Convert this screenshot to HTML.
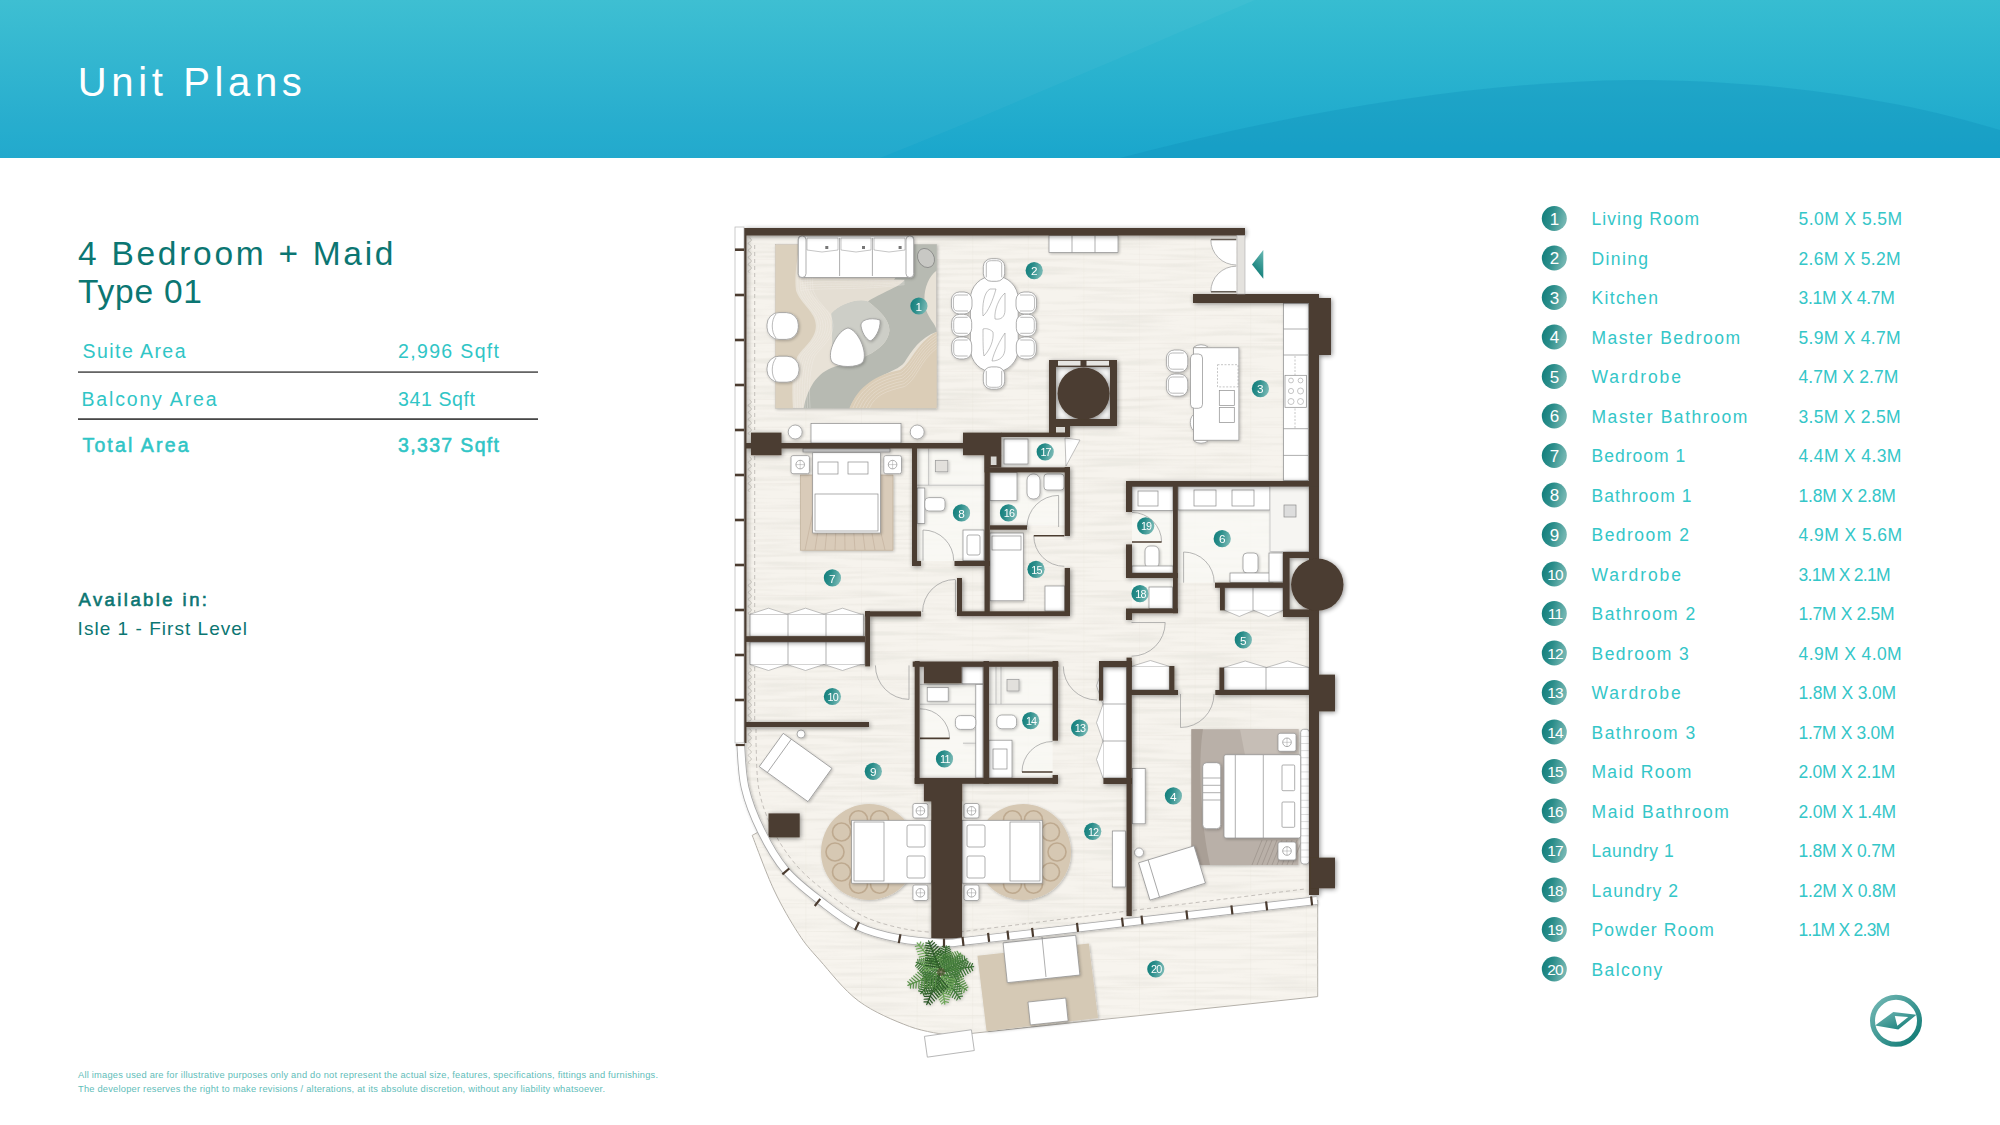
<!DOCTYPE html>
<html><head><meta charset="utf-8">
<style>
html,body{margin:0;padding:0;width:2000px;height:1125px;overflow:hidden;background:#fff;}
svg{position:absolute;left:0;top:0;display:block;}
text{font-family:"Liberation Sans",sans-serif;}
</style></head>
<body>
<svg width="2000" height="1125" viewBox="0 0 2000 1125">
<defs>
  <linearGradient id="hdr" x1="0" y1="0" x2="0" y2="1">
    <stop offset="0" stop-color="#37bdd1"/>
    <stop offset="1" stop-color="#1aa6cc"/>
  </linearGradient>
  <linearGradient id="mk" x1="0" y1="0" x2="1" y2="0.25">
    <stop offset="0" stop-color="#0d7c79"/>
    <stop offset="0.45" stop-color="#2a8d8a"/>
    <stop offset="1" stop-color="#72b5b1"/>
  </linearGradient>
  <linearGradient id="cmp" x1="0" y1="0" x2="1" y2="1">
    <stop offset="0" stop-color="#74b8b5"/>
    <stop offset="1" stop-color="#0b7872"/>
  </linearGradient>
</defs>

<!-- HEADER -->
<rect x="0" y="0" width="2000" height="158" fill="url(#hdr)"/>
<path d="M0 0 H1255 C1150 45 1000 110 880 158 H0 Z" fill="#ffffff" opacity="0.035"/>
<path d="M1120 158 C1300 110 1480 82 1630 80 C1780 80 1900 100 2000 130 V158 Z" fill="#0f8fb8" opacity="0.33"/>
<text x="77.8" y="95.5" font-size="40" fill="#fff" textLength="224" lengthAdjust="spacing">Unit Plans</text>

<!-- LEFT INFO -->
<g fill="#0b7672">
<text x="78" y="265.2" font-size="33.5" textLength="315.5" lengthAdjust="spacing">4 Bedroom + Maid</text>
<text x="78" y="303" font-size="33.5" textLength="124" lengthAdjust="spacing">Type 01</text>
</g>
<g fill="#30c5c6" font-size="19.5">
<text x="82.5" y="358.1" textLength="103" lengthAdjust="spacing">Suite Area</text>
<text x="398" y="358.1" textLength="101" lengthAdjust="spacing">2,996 Sqft</text>
<text x="81.5" y="406" textLength="135" lengthAdjust="spacing">Balcony Area</text>
<text x="398" y="406" textLength="77" lengthAdjust="spacing">341 Sqft</text>
<text x="82.5" y="452.2" stroke="#30c5c6" stroke-width="0.55" textLength="106" lengthAdjust="spacing">Total Area</text>
<text x="398" y="452.2" stroke="#30c5c6" stroke-width="0.55" textLength="101" lengthAdjust="spacing">3,337 Sqft</text>
</g>
<rect x="78" y="371.3" width="460" height="1.6" fill="#555"/>
<rect x="78" y="418.3" width="460" height="1.6" fill="#333"/>

<text x="78.5" y="605.8" font-size="18.5" fill="#0b7672" stroke="#0b7672" stroke-width="0.6" textLength="128.5" lengthAdjust="spacing">Available in:</text>
<text x="77.6" y="635" font-size="19" fill="#0b7672" textLength="169.5" lengthAdjust="spacing">Isle 1 - First Level</text>

<g fill="#5fbdb9" font-size="9.3">
<text x="78" y="1077.7" textLength="580" lengthAdjust="spacing">All images used are for illustrative purposes only and do not represent the actual size, features, specifications, fittings and furnishings.</text>
<text x="78" y="1091.5" textLength="527" lengthAdjust="spacing">The developer reserves the right to make revisions / alterations, at its absolute discretion, without any liability whatsoever.</text>
</g>

<!-- LEGEND -->
<g fill="#34c6c8">
<circle cx="1554.3" cy="218.5" r="12.5" fill="url(#mk)"/>
<text x="1554.6" y="224.6" font-size="17" fill="#fff" text-anchor="middle">1</text>
<text x="1591.5" y="225.0" font-size="17.5" textLength="107.6" lengthAdjust="spacing">Living Room</text>
<text x="1798.5" y="225.0" font-size="17.5" textLength="103.6" lengthAdjust="spacing">5.0M X 5.5M</text>
<circle cx="1554.3" cy="258.0" r="12.5" fill="url(#mk)"/>
<text x="1554.6" y="264.1" font-size="17" fill="#fff" text-anchor="middle">2</text>
<text x="1591.5" y="264.5" font-size="17.5" textLength="56.6" lengthAdjust="spacing">Dining</text>
<text x="1798.5" y="264.5" font-size="17.5" textLength="102.1" lengthAdjust="spacing">2.6M X 5.2M</text>
<circle cx="1554.3" cy="297.5" r="12.5" fill="url(#mk)"/>
<text x="1554.6" y="303.6" font-size="17" fill="#fff" text-anchor="middle">3</text>
<text x="1591.5" y="304.0" font-size="17.5" textLength="66.4" lengthAdjust="spacing">Kitchen</text>
<text x="1798.5" y="304.0" font-size="17.5" textLength="96.3" lengthAdjust="spacing">3.1M X 4.7M</text>
<circle cx="1554.3" cy="337.0" r="12.5" fill="url(#mk)"/>
<text x="1554.6" y="343.1" font-size="17" fill="#fff" text-anchor="middle">4</text>
<text x="1591.5" y="343.5" font-size="17.5" textLength="148.5" lengthAdjust="spacing">Master Bedroom</text>
<text x="1798.5" y="343.5" font-size="17.5" textLength="102.1" lengthAdjust="spacing">5.9M X 4.7M</text>
<circle cx="1554.3" cy="376.5" r="12.5" fill="url(#mk)"/>
<text x="1554.6" y="382.6" font-size="17" fill="#fff" text-anchor="middle">5</text>
<text x="1591.5" y="383.0" font-size="17.5" textLength="89.4" lengthAdjust="spacing">Wardrobe</text>
<text x="1798.5" y="383.0" font-size="17.5" textLength="99.9" lengthAdjust="spacing">4.7M X 2.7M</text>
<circle cx="1554.3" cy="416.0" r="12.5" fill="url(#mk)"/>
<text x="1554.6" y="422.1" font-size="17" fill="#fff" text-anchor="middle">6</text>
<text x="1591.5" y="422.5" font-size="17.5" textLength="155.8" lengthAdjust="spacing">Master Bathroom</text>
<text x="1798.5" y="422.5" font-size="17.5" textLength="102.1" lengthAdjust="spacing">3.5M X 2.5M</text>
<circle cx="1554.3" cy="455.5" r="12.5" fill="url(#mk)"/>
<text x="1554.6" y="461.6" font-size="17" fill="#fff" text-anchor="middle">7</text>
<text x="1591.5" y="462.0" font-size="17.5" textLength="93.8" lengthAdjust="spacing">Bedroom 1</text>
<text x="1798.5" y="462.0" font-size="17.5" textLength="102.8" lengthAdjust="spacing">4.4M X 4.3M</text>
<circle cx="1554.3" cy="495.0" r="12.5" fill="url(#mk)"/>
<text x="1554.6" y="501.1" font-size="17" fill="#fff" text-anchor="middle">8</text>
<text x="1591.5" y="501.5" font-size="17.5" textLength="99.9" lengthAdjust="spacing">Bathroom 1</text>
<text x="1798.5" y="501.5" font-size="17.5" textLength="97.4" lengthAdjust="spacing">1.8M X 2.8M</text>
<circle cx="1554.3" cy="534.5" r="12.5" fill="url(#mk)"/>
<text x="1554.6" y="540.6" font-size="17" fill="#fff" text-anchor="middle">9</text>
<text x="1591.5" y="541.0" font-size="17.5" textLength="97.4" lengthAdjust="spacing">Bedroom 2</text>
<text x="1798.5" y="541.0" font-size="17.5" textLength="103.6" lengthAdjust="spacing">4.9M X 5.6M</text>
<circle cx="1554.3" cy="574.0" r="12.5" fill="url(#mk)"/>
<text x="1555.0" y="579.6" font-size="15.5" letter-spacing="-0.9" fill="#fff" text-anchor="middle">10</text>
<text x="1591.5" y="580.5" font-size="17.5" textLength="89.4" lengthAdjust="spacing">Wardrobe</text>
<text x="1798.5" y="580.5" font-size="17.5" textLength="92.0" lengthAdjust="spacing">3.1M X 2.1M</text>
<circle cx="1554.3" cy="613.5" r="12.5" fill="url(#mk)"/>
<text x="1555.0" y="619.1" font-size="15.5" letter-spacing="-0.9" fill="#fff" text-anchor="middle">11</text>
<text x="1591.5" y="620.0" font-size="17.5" textLength="103.7" lengthAdjust="spacing">Bathroom 2</text>
<text x="1798.5" y="620.0" font-size="17.5" textLength="96.0" lengthAdjust="spacing">1.7M X 2.5M</text>
<circle cx="1554.3" cy="653.0" r="12.5" fill="url(#mk)"/>
<text x="1555.0" y="658.6" font-size="15.5" letter-spacing="-0.9" fill="#fff" text-anchor="middle">12</text>
<text x="1591.5" y="659.5" font-size="17.5" textLength="97.3" lengthAdjust="spacing">Bedroom 3</text>
<text x="1798.5" y="659.5" font-size="17.5" textLength="103.2" lengthAdjust="spacing">4.9M X 4.0M</text>
<circle cx="1554.3" cy="692.5" r="12.5" fill="url(#mk)"/>
<text x="1555.0" y="698.1" font-size="15.5" letter-spacing="-0.9" fill="#fff" text-anchor="middle">13</text>
<text x="1591.5" y="699.0" font-size="17.5" textLength="89.2" lengthAdjust="spacing">Wardrobe</text>
<text x="1798.5" y="699.0" font-size="17.5" textLength="97.7" lengthAdjust="spacing">1.8M X 3.0M</text>
<circle cx="1554.3" cy="732.0" r="12.5" fill="url(#mk)"/>
<text x="1555.0" y="737.6" font-size="15.5" letter-spacing="-0.9" fill="#fff" text-anchor="middle">14</text>
<text x="1591.5" y="738.5" font-size="17.5" textLength="103.7" lengthAdjust="spacing">Bathroom 3</text>
<text x="1798.5" y="738.5" font-size="17.5" textLength="96.0" lengthAdjust="spacing">1.7M X 3.0M</text>
<circle cx="1554.3" cy="771.5" r="12.5" fill="url(#mk)"/>
<text x="1555.0" y="777.1" font-size="15.5" letter-spacing="-0.9" fill="#fff" text-anchor="middle">15</text>
<text x="1591.5" y="778.0" font-size="17.5" textLength="99.8" lengthAdjust="spacing">Maid Room</text>
<text x="1798.5" y="778.0" font-size="17.5" textLength="96.8" lengthAdjust="spacing">2.0M X 2.1M</text>
<circle cx="1554.3" cy="811.0" r="12.5" fill="url(#mk)"/>
<text x="1555.0" y="816.6" font-size="15.5" letter-spacing="-0.9" fill="#fff" text-anchor="middle">16</text>
<text x="1591.5" y="817.5" font-size="17.5" textLength="137.4" lengthAdjust="spacing">Maid Bathroom</text>
<text x="1798.5" y="817.5" font-size="17.5" textLength="97.7" lengthAdjust="spacing">2.0M X 1.4M</text>
<circle cx="1554.3" cy="850.5" r="12.5" fill="url(#mk)"/>
<text x="1555.0" y="856.1" font-size="15.5" letter-spacing="-0.9" fill="#fff" text-anchor="middle">17</text>
<text x="1591.5" y="857.0" font-size="17.5" textLength="82.3" lengthAdjust="spacing">Laundry 1</text>
<text x="1798.5" y="857.0" font-size="17.5" textLength="96.8" lengthAdjust="spacing">1.8M X 0.7M</text>
<circle cx="1554.3" cy="890.0" r="12.5" fill="url(#mk)"/>
<text x="1555.0" y="895.6" font-size="15.5" letter-spacing="-0.9" fill="#fff" text-anchor="middle">18</text>
<text x="1591.5" y="896.5" font-size="17.5" textLength="86.6" lengthAdjust="spacing">Laundry 2</text>
<text x="1798.5" y="896.5" font-size="17.5" textLength="97.7" lengthAdjust="spacing">1.2M X 0.8M</text>
<circle cx="1554.3" cy="929.5" r="12.5" fill="url(#mk)"/>
<text x="1555.0" y="935.1" font-size="15.5" letter-spacing="-0.9" fill="#fff" text-anchor="middle">19</text>
<text x="1591.5" y="936.0" font-size="17.5" textLength="122.4" lengthAdjust="spacing">Powder Room</text>
<text x="1798.5" y="936.0" font-size="17.5" textLength="91.7" lengthAdjust="spacing">1.1M X 2.3M</text>
<circle cx="1554.3" cy="969.0" r="12.5" fill="url(#mk)"/>
<text x="1555.0" y="974.6" font-size="15.5" letter-spacing="-0.9" fill="#fff" text-anchor="middle">20</text>
<text x="1591.5" y="975.5" font-size="17.5" textLength="70.8" lengthAdjust="spacing">Balcony</text>
</g>
<!-- COMPASS -->
<circle cx="1896" cy="1020.8" r="23.5" fill="none" stroke="url(#cmp)" stroke-width="5"/>
<path fill="url(#cmp)" fill-rule="evenodd" d="M1875 1025.5 L1893.3 1012 L1916.5 1014.8 L1898.3 1029.5 Z M1894.8 1016.1 L1908.2 1017.1 L1897.3 1025.8 Z"/>

<!-- PLAN -->
<defs>
<pattern id="tiles" x="1027.8" y="259" width="55.6" height="28" patternUnits="userSpaceOnUse">
<path d="M0 0 V28 M0 0 H55.6" stroke="#e2ddd3" stroke-width="0.8" fill="none"/>
</pattern>
<filter id="sh" x="-10%" y="-10%" width="120%" height="120%">
<feGaussianBlur in="SourceAlpha" stdDeviation="2.6"/>
<feOffset dx="0.5" dy="1" result="b"/>
<feComponentTransfer><feFuncA type="linear" slope="0.45"/></feComponentTransfer>
<feMerge><feMergeNode/><feMergeNode in="SourceGraphic"/></feMerge>
</filter>
<filter id="shs" x="-20%" y="-20%" width="140%" height="140%">
<feGaussianBlur in="SourceAlpha" stdDeviation="1.5"/>
<feOffset dx="0.5" dy="1" result="b"/>
<feComponentTransfer><feFuncA type="linear" slope="0.25"/></feComponentTransfer>
<feMerge><feMergeNode/><feMergeNode in="SourceGraphic"/></feMerge>
</filter>
<filter id="marble" x="0" y="0" width="100%" height="100%" filterUnits="userSpaceOnUse">
<feTurbulence type="fractalNoise" baseFrequency="0.012 0.22" numOctaves="2" seed="4" result="n"/>
<feColorMatrix in="n" type="matrix" values="0 0 0 0 0.74  0 0 0 0 0.72  0 0 0 0 0.66  3.2 0 0 0 -1.35" result="c"/>
<feComposite in="c" in2="SourceGraphic" operator="in"/>
</filter>
<radialGradient id="palm" cx="0.5" cy="0.5" r="0.5">
<stop offset="0" stop-color="#2f5a22"/><stop offset="0.6" stop-color="#4f8a35"/><stop offset="1" stop-color="#7db35a" stop-opacity="0.0"/>
</radialGradient>
<linearGradient id="arrowg" x1="1" y1="0" x2="0.6" y2="1">
<stop offset="0" stop-color="#6ab9b4"/><stop offset="1" stop-color="#0b7a75"/>
</linearGradient>
</defs>
<path d="M752.2 835.4 C755.8 844.5 766.3 873.7 774.0 890.0 C781.7 906.3 790.7 921.6 798.3 933.3 C805.9 945.0 809.5 948.7 819.6 960.0 C829.7 971.3 843.6 989.9 858.6 1001.0 C873.6 1012.1 894.0 1020.6 909.4 1026.4 C924.8 1032.2 944.1 1034.1 951.0 1035.6 L1317.7 996.6 L1317.7 900.5 L963 941.4L963.0 941.4 C959.7 941.7 953.9 943.5 943.3 943.0 C932.7 942.5 914.0 941.5 899.6 938.7 C885.2 935.9 870.1 932.2 857.0 926.0 C843.9 919.8 832.9 910.6 821.0 901.4 C809.1 892.2 795.8 882.4 785.8 870.6 C775.8 858.8 765.1 837.3 761.0 830.6 Z" fill="#f7f4ee" stroke="#b3afa8" stroke-width="1"/>
<path d="M752.2 835.4 C755.8 844.5 766.3 873.7 774.0 890.0 C781.7 906.3 790.7 921.6 798.3 933.3 C805.9 945.0 809.5 948.7 819.6 960.0 C829.7 971.3 843.6 989.9 858.6 1001.0 C873.6 1012.1 894.0 1020.6 909.4 1026.4 C924.8 1032.2 944.1 1034.1 951.0 1035.6 L1317.7 996.6 L1317.7 900.5 L963 941.4L963.0 941.4 C959.7 941.7 953.9 943.5 943.3 943.0 C932.7 942.5 914.0 941.5 899.6 938.7 C885.2 935.9 870.1 932.2 857.0 926.0 C843.9 919.8 832.9 910.6 821.0 901.4 C809.1 892.2 795.8 882.4 785.8 870.6 C775.8 858.8 765.1 837.3 761.0 830.6 Z" fill="url(#tiles)" opacity="0.6"/>
<path d="M752.2 835.4 C755.8 844.5 766.3 873.7 774.0 890.0 C781.7 906.3 790.7 921.6 798.3 933.3 C805.9 945.0 809.5 948.7 819.6 960.0 C829.7 971.3 843.6 989.9 858.6 1001.0 C873.6 1012.1 894.0 1020.6 909.4 1026.4 C924.8 1032.2 944.1 1034.1 951.0 1035.6 L1317.7 996.6 L1317.7 900.5 L963 941.4L963.0 941.4 C959.7 941.7 953.9 943.5 943.3 943.0 C932.7 942.5 914.0 941.5 899.6 938.7 C885.2 935.9 870.1 932.2 857.0 926.0 C843.9 919.8 832.9 910.6 821.0 901.4 C809.1 892.2 795.8 882.4 785.8 870.6 C775.8 858.8 765.1 837.3 761.0 830.6 Z" fill="#000" filter="url(#marble)" opacity="0.3"/>
<rect x="925.6" y="1033.0" width="47.4" height="21.0" rx="0" fill="#fff" stroke="#aaa" stroke-width="0.8" transform="rotate(-8 949 1043)"/>
<path d="M746 235 H1245 V294 H1309 V900.5 L963 941.4 C959.7 941.7 953.9 943.5 943.3 943.0 C932.7 942.5 914.0 941.5 899.6 938.7 C885.2 935.9 870.1 932.2 857.0 926.0 C843.9 919.8 832.9 910.6 821.0 901.4 C809.1 892.2 795.8 882.4 785.8 870.6 C775.8 858.8 767.8 844.5 761.0 830.6 C754.2 816.8 748.4 802.1 745.0 787.5 C741.6 772.9 741.3 750.4 740.6 743.0 Z" fill="#f6f3ed"/>
<path d="M746 235 H1245 V294 H1309 V900.5 L963 941.4 C959.7 941.7 953.9 943.5 943.3 943.0 C932.7 942.5 914.0 941.5 899.6 938.7 C885.2 935.9 870.1 932.2 857.0 926.0 C843.9 919.8 832.9 910.6 821.0 901.4 C809.1 892.2 795.8 882.4 785.8 870.6 C775.8 858.8 767.8 844.5 761.0 830.6 C754.2 816.8 748.4 802.1 745.0 787.5 C741.6 772.9 741.3 750.4 740.6 743.0 Z" fill="url(#tiles)" opacity="0.45"/>
<path d="M746 235 H1245 V294 H1309 V900.5 L963 941.4 C959.7 941.7 953.9 943.5 943.3 943.0 C932.7 942.5 914.0 941.5 899.6 938.7 C885.2 935.9 870.1 932.2 857.0 926.0 C843.9 919.8 832.9 910.6 821.0 901.4 C809.1 892.2 795.8 882.4 785.8 870.6 C775.8 858.8 767.8 844.5 761.0 830.6 C754.2 816.8 748.4 802.1 745.0 787.5 C741.6 772.9 741.3 750.4 740.6 743.0 Z" fill="#000" filter="url(#marble)" opacity="0.35"/>
<rect x="917" y="448.5" width="67.5" height="112.5" fill="#faf9f6" opacity="0.75"/>
<rect x="990" y="472.4" width="75.0" height="52.9" fill="#faf9f6" opacity="0.75"/>
<rect x="1132" y="486.5" width="41.0" height="86.5" fill="#faf9f6" opacity="0.75"/>
<rect x="1178" y="486.5" width="131.0" height="96.1" fill="#faf9f6" opacity="0.75"/>
<rect x="1289.6" y="558" width="19.4" height="51.4" fill="#faf9f6" opacity="0.75"/>
<rect x="919.6" y="666.8" width="63.9" height="111.2" fill="#faf9f6" opacity="0.75"/>
<rect x="989" y="666.8" width="63.6" height="111.2" fill="#faf9f6" opacity="0.75"/>
<rect x="1001" y="437" width="64.0" height="30.4" fill="#faf9f6" opacity="0.75"/>
<rect x="1132" y="578" width="41.0" height="30.5" fill="#faf9f6" opacity="0.75"/>
<g filter="url(#shs)"><g transform="translate(770 240) scale(0.1529)">
<rect x="35" y="30" width="1055" height="1070" fill="#e8e2d7" stroke="#aaa" stroke-width="3"/>
<path d="M35 30 H195 C170 150 160 260 170 330 C200 420 300 470 300 560 C300 650 220 700 180 760 C150 830 140 950 150 1100 H35 Z" fill="#dbd0bd"/>
<path d="M880 30 H1090 V200 C1010 260 990 400 1030 480 C1060 540 1090 560 1090 600 C980 640 930 720 880 800 C820 880 620 880 520 1100 H220 C250 950 320 850 450 820 C600 780 760 720 780 600 C790 520 700 450 640 400 C720 330 870 300 880 30 Z" fill="#b7bab2"/>
<path d="M640 400 C700 450 790 520 780 600 C760 720 600 780 450 820 C380 700 420 600 400 480 C460 420 560 380 640 400 Z" fill="#cdcec7"/>
<path d="M520 1100 C580 950 700 880 850 850 C930 800 950 680 1090 600 V1100 Z" fill="#dbcdb7"/>
<path d="M200 250 C350 230 600 250 880 260 C860 300 760 330 640 400 C560 380 460 420 400 480 C330 420 250 330 200 250 Z" fill="#e4ded3"/>
<clipPath id="rugclip"><rect x="35" y="30" width="1055" height="1070"/></clipPath>
<g clip-path="url(#rugclip)" fill="none" stroke="#f7f4ef" stroke-width="3.5" opacity="0.55">
<path d="M211 30 C186 150 176 260 186 330 C216 420 316 470 316 560 C316 650 236 700 196 760 C166 830 156 950 166 1100"/>
<path d="M227 30 C202 150 192 260 202 330 C232 420 332 470 332 560 C332 650 252 700 212 760 C182 830 172 950 182 1100"/>
<path d="M243 30 C218 150 208 260 218 330 C248 420 348 470 348 560 C348 650 268 700 228 760 C198 830 188 950 198 1100"/>
<path d="M259 30 C234 150 224 260 234 330 C264 420 364 470 364 560 C364 650 284 700 244 760 C214 830 204 950 214 1100"/>
<path d="M275 30 C250 150 240 260 250 330 C280 420 380 470 380 560 C380 650 300 700 260 760 C230 830 220 950 230 1100"/>
<path d="M291 30 C266 150 256 260 266 330 C296 420 396 470 396 560 C396 650 316 700 276 760 C246 830 236 950 246 1100"/>
<path d="M307 30 C282 150 272 260 282 330 C312 420 412 470 412 560 C412 650 332 700 292 760 C262 830 252 950 262 1100"/>
<path d="M542 1100 C598 961 709 898 855 868 C935 818 955 698 1090 618"/>
<path d="M563 1100 C616 972 718 916 861 886 C941 836 961 716 1090 636"/>
<path d="M585 1100 C634 982 727 934 866 904 C946 854 966 734 1090 654"/>
<path d="M606 1100 C652 993 736 952 872 922 C952 872 972 752 1090 672"/>
<path d="M628 1100 C670 1004 745 970 877 940 C957 890 977 770 1090 690"/>
<path d="M650 1100 C688 1015 754 988 882 958 C962 908 982 788 1090 708"/>
<path d="M200 266 C350 246 600 266 880 266"/>
<path d="M200 282 C350 262 600 282 880 273"/>
<path d="M200 298 C350 278 600 298 880 279"/>
<path d="M200 314 C350 294 600 314 880 286"/>
<path d="M200 330 C350 310 600 330 880 292"/>
</g>
</g></g>
<rect x="800.6" y="475" width="92.4" height="75.2" fill="#d9cbb9" stroke="#b9a78f" stroke-width="0.6" filter="url(#shs)"/>
<path d="M805 550 L820 478" stroke="#a8917a" stroke-width="0.5" opacity="0.6"/>
<path d="M815 550 L826 478" stroke="#a8917a" stroke-width="0.5" opacity="0.6"/>
<path d="M825 550 L832 478" stroke="#a8917a" stroke-width="0.5" opacity="0.6"/>
<path d="M835 550 L838 478" stroke="#a8917a" stroke-width="0.5" opacity="0.6"/>
<path d="M845 550 L844 478" stroke="#a8917a" stroke-width="0.5" opacity="0.6"/>
<path d="M855 550 L850 478" stroke="#a8917a" stroke-width="0.5" opacity="0.6"/>
<path d="M865 550 L856 478" stroke="#a8917a" stroke-width="0.5" opacity="0.6"/>
<path d="M875 550 L862 478" stroke="#a8917a" stroke-width="0.5" opacity="0.6"/>
<path d="M885 550 L868 478" stroke="#a8917a" stroke-width="0.5" opacity="0.6"/>
<circle cx="869" cy="852" r="48" fill="#d6c8b3" filter="url(#shs)"/>
<circle cx="903.0" cy="852.0" r="9" fill="none" stroke="#b59f83" stroke-width="1.6" opacity="0.75"/>
<circle cx="896.5" cy="872.0" r="9" fill="none" stroke="#b59f83" stroke-width="1.6" opacity="0.75"/>
<circle cx="879.5" cy="884.3" r="9" fill="none" stroke="#b59f83" stroke-width="1.6" opacity="0.75"/>
<circle cx="858.5" cy="884.3" r="9" fill="none" stroke="#b59f83" stroke-width="1.6" opacity="0.75"/>
<circle cx="841.5" cy="872.0" r="9" fill="none" stroke="#b59f83" stroke-width="1.6" opacity="0.75"/>
<circle cx="835.0" cy="852.0" r="9" fill="none" stroke="#b59f83" stroke-width="1.6" opacity="0.75"/>
<circle cx="841.5" cy="832.0" r="9" fill="none" stroke="#b59f83" stroke-width="1.6" opacity="0.75"/>
<circle cx="858.5" cy="819.7" r="9" fill="none" stroke="#b59f83" stroke-width="1.6" opacity="0.75"/>
<circle cx="879.5" cy="819.7" r="9" fill="none" stroke="#b59f83" stroke-width="1.6" opacity="0.75"/>
<circle cx="896.5" cy="832.0" r="9" fill="none" stroke="#b59f83" stroke-width="1.6" opacity="0.75"/>
<circle cx="1023" cy="852" r="48" fill="#d6c8b3" filter="url(#shs)"/>
<circle cx="1057.0" cy="852.0" r="9" fill="none" stroke="#b59f83" stroke-width="1.6" opacity="0.75"/>
<circle cx="1050.5" cy="872.0" r="9" fill="none" stroke="#b59f83" stroke-width="1.6" opacity="0.75"/>
<circle cx="1033.5" cy="884.3" r="9" fill="none" stroke="#b59f83" stroke-width="1.6" opacity="0.75"/>
<circle cx="1012.5" cy="884.3" r="9" fill="none" stroke="#b59f83" stroke-width="1.6" opacity="0.75"/>
<circle cx="995.5" cy="872.0" r="9" fill="none" stroke="#b59f83" stroke-width="1.6" opacity="0.75"/>
<circle cx="989.0" cy="852.0" r="9" fill="none" stroke="#b59f83" stroke-width="1.6" opacity="0.75"/>
<circle cx="995.5" cy="832.0" r="9" fill="none" stroke="#b59f83" stroke-width="1.6" opacity="0.75"/>
<circle cx="1012.5" cy="819.7" r="9" fill="none" stroke="#b59f83" stroke-width="1.6" opacity="0.75"/>
<circle cx="1033.5" cy="819.7" r="9" fill="none" stroke="#b59f83" stroke-width="1.6" opacity="0.75"/>
<circle cx="1050.5" cy="832.0" r="9" fill="none" stroke="#b59f83" stroke-width="1.6" opacity="0.75"/>
<rect x="1191.4" y="729.2" width="107.1" height="135.8" fill="#b9b0a8" filter="url(#shs)"/>
<path d="M1240 729.2 H1298.5 V755 H1245 Z" fill="#c6beb6"/><path d="M1191.4 729.2 H1203 C1198 760 1200 820 1210 865 H1191.4 Z" fill="#a99f96"/>
<path d="M1252 865 L1262 840" stroke="#8f857c" stroke-width="0.5" fill="none"/>
<path d="M1257 865 L1267 840" stroke="#8f857c" stroke-width="0.5" fill="none"/>
<path d="M1262 865 L1272 840" stroke="#8f857c" stroke-width="0.5" fill="none"/>
<path d="M1267 865 L1277 840" stroke="#8f857c" stroke-width="0.5" fill="none"/>
<path d="M1272 865 L1282 840" stroke="#8f857c" stroke-width="0.5" fill="none"/>
<path d="M1277 865 L1287 840" stroke="#8f857c" stroke-width="0.5" fill="none"/>
<path d="M1282 865 L1292 840" stroke="#8f857c" stroke-width="0.5" fill="none"/>
<path d="M1287 865 L1297 840" stroke="#8f857c" stroke-width="0.5" fill="none"/>
<path d="M1292 865 L1302 840" stroke="#8f857c" stroke-width="0.5" fill="none"/>
<path d="M977.4 955.7 L1088.8 943.4 L1098 1018 L986.6 1031.3 Z" fill="#d5c9b5" filter="url(#shs)"/>
<path d="M754.7 245 V430 M754.7 456 V612 M754.7 667 V720 M756 729 V743 C756.5 750.8 756.2 775.5 759.0 790.0 C761.8 804.5 766.7 817.3 773.0 830.0 C779.3 842.7 787.5 855.2 797.0 866.0 C806.5 876.8 818.7 886.5 830.0 895.0 C841.3 903.5 852.5 911.3 865.0 917.0 C877.5 922.7 891.7 926.3 905.0 929.0 C918.3 931.7 935.3 932.6 945.0 933.0 C954.7 933.4 960.0 931.8 963.0 931.5 L1305 889" fill="none" stroke="#b7b3ad" stroke-width="0.8" stroke-dasharray="4 3"/>
<path d="M749.5 238 q4 2 0 4 q-3 1 0 3 q4 2 0 4 q-3 1 0 3 q4 2 0 4 q-3 1 0 3 q4 2 0 4 q-3 1 0 3 q4 2 0 4 q-3 1 0 3" fill="none" stroke="#b9b5ae" stroke-width="0.6"/>
<path d="M749.5 400 q4 2 0 4 q-3 1 0 3 q4 2 0 4 q-3 1 0 3 q4 2 0 4 q-3 1 0 3 q4 2 0 4 q-3 1 0 3 q4 2 0 4 q-3 1 0 3" fill="none" stroke="#b9b5ae" stroke-width="0.6"/>
<path d="M749.5 457 q4 2 0 4 q-3 1 0 3 q4 2 0 4 q-3 1 0 3 q4 2 0 4 q-3 1 0 3 q4 2 0 4 q-3 1 0 3 q4 2 0 4 q-3 1 0 3" fill="none" stroke="#b9b5ae" stroke-width="0.6"/>
<path d="M749.5 580 q4 2 0 4 q-3 1 0 3 q4 2 0 4 q-3 1 0 3 q4 2 0 4 q-3 1 0 3 q4 2 0 4 q-3 1 0 3 q4 2 0 4 q-3 1 0 3" fill="none" stroke="#b9b5ae" stroke-width="0.6"/>
<path d="M749.5 668 q4 2 0 4 q-3 1 0 3 q4 2 0 4 q-3 1 0 3 q4 2 0 4 q-3 1 0 3 q4 2 0 4 q-3 1 0 3 q4 2 0 4 q-3 1 0 3 q4 2 0 4 q-3 1 0 3 q4 2 0 4 q-3 1 0 3 q4 2 0 4 q-3 1 0 3" fill="none" stroke="#b9b5ae" stroke-width="0.6"/>
<path d="M749.5 729 q4 2 0 4 q-3 1 0 3 q4 2 0 4 q-3 1 0 3 q4 2 0 4 q-3 1 0 3 q4 2 0 4 q-3 1 0 3 q4 2 0 4 q-3 1 0 3" fill="none" stroke="#b9b5ae" stroke-width="0.6"/>
<g fill="#fff" stroke="#8c8c8c" stroke-width="0.7" filter="url(#shs)">
<rect x="798.3" y="236" width="115.4" height="41.5" rx="3"/>
<rect x="798.3" y="236" width="7.7" height="41.5" rx="3.8"/><rect x="906" y="236" width="7.7" height="41.5" rx="3.8"/>
<path d="M839.6 238 V276 M872.4 238 V276" fill="none"/>
<path d="M807 238 H838 V250 L822 252 L807 250 Z M841 238 H871 V250 L856 252 L841 250 Z M874 238 H905 V250 L889 252 L874 250 Z" fill="#fff" stroke-width="0.5"/>
<rect x="825.3" y="246" width="3" height="3" fill="#777" stroke="none"/><rect x="862" y="246" width="3" height="3" fill="#777" stroke="none"/><rect x="898.6" y="246" width="3" height="3" fill="#777" stroke="none"/>
<rect x="767" y="312.6" width="31.3" height="26.8" rx="12"/><rect x="767" y="356.2" width="32" height="26" rx="12"/>
<path d="M776 314 C771 320 771 332 776 338 M776 358 C771 364 771 376 776 381" fill="none" stroke-width="0.6"/>
<path d="M832 362 C826 352 838 330 848 328 C858 330 868 352 863 362 C858 368 838 368 832 362 Z"/>
<path d="M861 326 C860 320 870 317 880 320 C881 330 874 340 870 341 C865 338 862 332 861 326 Z"/>
<rect x="811" y="423.5" width="90" height="19.5"/>
<circle cx="795.2" cy="432" r="7"/><circle cx="917.2" cy="432" r="7"/>
<rect x="970.4" y="276" width="47.8" height="96" rx="23"/>
<path d="M990 289 C984 292 982 305 983 316 C988 312 993 300 996 289 Z M1005 293 C999 298 994 310 995 319 C1001 320 1005 317 1005 310 Z M983 329 C983 340 983 352 984 356 C990 350 994 340 993 332 C990 329 986 328 983 329 Z M1005 333 C1000 340 994 352 992 361 C1000 361 1005 356 1005 348 Z" fill="#fff" stroke="#999" stroke-width="0.6"/>
<g transform="translate(961.7 303.0) rotate(90)"><rect x="-11.0" y="-10.3" width="22.0" height="20.6" rx="8"/><path d="M-8.0 -6.3 V4.3 Q-8.0 8.3 -3.0 8.3 H3.0 Q8.0 8.3 8.0 4.3 V-6.3" fill="none" stroke-width="0.6"/></g>
<g transform="translate(1026.3 303.0) rotate(-90)"><rect x="-11.0" y="-10.3" width="22.0" height="20.6" rx="8"/><path d="M-8.0 -6.3 V4.3 Q-8.0 8.3 -3.0 8.3 H3.0 Q8.0 8.3 8.0 4.3 V-6.3" fill="none" stroke-width="0.6"/></g>
<g transform="translate(961.7 325.3) rotate(90)"><rect x="-11.0" y="-10.0" width="22.0" height="20.0" rx="8"/><path d="M-8.0 -6.0 V4.0 Q-8.0 8.0 -3.0 8.0 H3.0 Q8.0 8.0 8.0 4.0 V-6.0" fill="none" stroke-width="0.6"/></g>
<g transform="translate(1026.3 325.3) rotate(-90)"><rect x="-11.0" y="-10.0" width="22.0" height="20.0" rx="8"/><path d="M-8.0 -6.0 V4.0 Q-8.0 8.0 -3.0 8.0 H3.0 Q8.0 8.0 8.0 4.0 V-6.0" fill="none" stroke-width="0.6"/></g>
<g transform="translate(961.7 348.0) rotate(90)"><rect x="-11.0" y="-10.0" width="22.0" height="20.0" rx="8"/><path d="M-8.0 -6.0 V4.0 Q-8.0 8.0 -3.0 8.0 H3.0 Q8.0 8.0 8.0 4.0 V-6.0" fill="none" stroke-width="0.6"/></g>
<g transform="translate(1026.3 348.0) rotate(-90)"><rect x="-11.0" y="-10.0" width="22.0" height="20.0" rx="8"/><path d="M-8.0 -6.0 V4.0 Q-8.0 8.0 -3.0 8.0 H3.0 Q8.0 8.0 8.0 4.0 V-6.0" fill="none" stroke-width="0.6"/></g>
<g transform="translate(994.0 270.0) rotate(180)"><rect x="-10.7" y="-11.3" width="21.4" height="22.6" rx="8"/><path d="M-7.7 -7.3 V5.3 Q-7.7 9.3 -2.7 9.3 H2.7 Q7.7 9.3 7.7 5.3 V-7.3" fill="none" stroke-width="0.6"/></g>
<g transform="translate(994.0 378.1) rotate(0)"><rect x="-10.7" y="-11.2" width="21.4" height="22.3" rx="8"/><path d="M-7.7 -7.2 V5.2 Q-7.7 9.2 -2.7 9.2 H2.7 Q7.7 9.2 7.7 5.2 V-7.2" fill="none" stroke-width="0.6"/></g>
<rect x="1049" y="235.5" width="69" height="17"/><path d="M1072 235.5 V252.5 M1095 235.5 V252.5" fill="none"/>
<path d="M1194 347 A9 6 0 0 1 1208 347 M1194 441 A9 6 0 0 0 1208 441 M1193 358 A6 9 0 0 0 1193 372 M1193 415 A6 9 0 0 0 1193 430" fill="#fff"/>
<rect x="1193.6" y="347.8" width="45.3" height="92.4"/>
<rect x="1190.5" y="354" width="12" height="54.3" rx="4"/>
<rect x="1217.5" y="364.7" width="20.5" height="22.2" fill="none" stroke-dasharray="2 1.5" stroke-width="0.5"/>
<rect x="1219.3" y="390.5" width="15" height="15"/><rect x="1219.3" y="407.5" width="15" height="15"/>
<g transform="translate(1177.1 361.1) rotate(90)"><rect x="-11.1" y="-10.7" width="22.2" height="21.4" rx="8"/><path d="M-8.1 -6.7 V4.7 Q-8.1 8.7 -3.1 8.7 H3.1 Q8.1 8.7 8.1 4.7 V-6.7" fill="none" stroke-width="0.6"/></g>
<g transform="translate(1177.1 385.1) rotate(90)"><rect x="-11.1" y="-10.7" width="22.2" height="21.4" rx="8"/><path d="M-8.1 -6.7 V4.7 Q-8.1 8.7 -3.1 8.7 H3.1 Q8.1 8.7 8.1 4.7 V-6.7" fill="none" stroke-width="0.6"/></g>
<rect x="1283.4" y="303.3" width="24.9" height="177"/>
<path d="M1283.4 329 H1308 M1283.4 355 H1308 M1283.4 428.7 H1308 M1283.4 455.4 H1308" fill="none"/>
<path d="M1295 356 V428" fill="none" stroke-dasharray="2 1.5" stroke-width="0.5"/>
<rect x="1285" y="375.3" width="21.5" height="32"/>
<circle cx="1291" cy="380.5" r="2.4" fill="none" stroke-width="0.5"/><circle cx="1300.5" cy="380.5" r="2.4" fill="none" stroke-width="0.5"/><circle cx="1291" cy="391" r="2.6" fill="none" stroke-width="0.5"/><circle cx="1300.5" cy="391" r="3" fill="none" stroke-width="0.5"/><circle cx="1291" cy="401.5" r="3" fill="none" stroke-width="0.5"/><circle cx="1300.5" cy="401.5" r="3" fill="none" stroke-width="0.5"/>
<rect x="803" y="448.5" width="87" height="3.5" fill="#ddd"/>
<rect x="812.7" y="452.7" width="67.8" height="80.3"/>
<rect x="815" y="494" width="63" height="37"/>
<rect x="818" y="462" width="20" height="12"/><rect x="848" y="462" width="20" height="12"/>
<rect x="791" y="455.6" width="18.4" height="18.1" rx="2"/><rect x="883.8" y="455.6" width="17.7" height="18.1" rx="2"/>
<rect x="750" y="614.2" width="113.3" height="22"/><path d="M788 614.2 V636.2 M826 614.2 V636.2" fill="none"/>
<rect x="750" y="642" width="115" height="22.4"/><path d="M788 642 V664.4 M826 642 V664.4" fill="none"/>
<path d="M928.7 448.5 V485.2 M917 485.2 H984.5" fill="none" stroke="#aaa"/><rect x="935.4" y="460.4" width="12.4" height="11.4" fill="#e2e0dc" stroke="#999"/>
<rect x="917.2" y="488" width="7.6" height="35.4"/>
<rect x="924.8" y="497.6" width="20.2" height="13.4" rx="4"/><rect x="963" y="530" width="21" height="30.7"/><rect x="967" y="535" width="13" height="20" rx="2"/>
<rect x="990" y="472.4" width="27" height="28"/><rect x="1027" y="474" width="13" height="25" rx="6"/><rect x="1044" y="474" width="20" height="16" rx="3"/>
<rect x="990" y="533" width="33.3" height="67.8"/><rect x="992" y="536" width="29" height="14"/>
<rect x="1045" y="586" width="19.7" height="25"/>
<rect x="1004" y="439" width="24" height="25"/>
<rect x="1132" y="486.5" width="41" height="24"/><rect x="1138" y="491" width="20" height="15"/>
<rect x="1145" y="546" width="14" height="22" rx="5"/><rect x="1132" y="566" width="41" height="7"/>
<rect x="1149" y="587" width="23.5" height="21.5"/>
<rect x="1178" y="486.5" width="92" height="23.5"/><rect x="1194" y="490" width="22" height="16"/><rect x="1232" y="490" width="22" height="16"/>
<rect x="1270" y="486.5" width="39" height="65" fill="#f6f5f2" stroke="#bbb"/><rect x="1284" y="505" width="12" height="12" fill="#ddd"/>
<rect x="1243" y="553" width="15" height="20" rx="4"/><rect x="1230" y="573" width="43" height="9.6"/>
<rect x="1269" y="553" width="14" height="29"/>
<rect x="1224.7" y="587.8" width="58.3" height="22.5"/><path d="M1253 587.8 V610" fill="none"/>
<rect x="1131.5" y="666.4" width="37.8" height="23.6"/>
<rect x="1224" y="667.5" width="85" height="22.5"/><path d="M1266 667.5 V690" fill="none"/>
<rect x="1103" y="667" width="23.5" height="111"/><path d="M1103 704 H1126.5 M1103 741 H1126.5" fill="none"/>
<rect x="962" y="666.8" width="21" height="17"/>
<path d="M920 684.4 H975.8 M920 704.2 H983 M963 743.2 H983" fill="none" stroke="#aaa"/>
<rect x="927.2" y="687.4" width="21" height="13.8"/>
<rect x="975.8" y="684.4" width="7.2" height="93.6"/>
<rect x="955.4" y="715.6" width="20.4" height="13.8" rx="5"/>
<path d="M996 666.8 V704.2 M1001 666.8 V704.2 M989 704.2 H1052.6" fill="none" stroke="#aaa"/><rect x="1007" y="679.6" width="12" height="11.4" fill="#e2e0dc" stroke="#999"/>
<rect x="996.8" y="715" width="19.8" height="13.8" rx="5"/>
<rect x="989" y="740.2" width="23" height="37.8"/><rect x="993" y="749" width="14" height="20"/>
<rect x="912.9" y="803.5" width="15" height="14.5" rx="2"/><rect x="912.9" y="885" width="15" height="15.5" rx="2"/>
<rect x="851.7" y="820.3" width="79.7" height="62.9"/><rect x="854" y="822" width="30" height="59"/>
<rect x="907" y="825" width="18" height="22" rx="2"/><rect x="907" y="856" width="18" height="22" rx="2"/>
<rect x="964" y="803.5" width="15" height="14.5" rx="2"/><rect x="964" y="885" width="15" height="15.5" rx="2"/>
<rect x="962.2" y="820.3" width="80" height="62.9"/><rect x="1010" y="822" width="30" height="59"/>
<rect x="967" y="825" width="18" height="22" rx="2"/><rect x="967" y="856" width="18" height="22" rx="2"/>
<rect x="1112.3" y="831" width="13.3" height="56"/>
<rect x="1300.7" y="729.3" width="8.6" height="134.7" rx="3"/>
<path d="M1301 736.4 H1309 M1301 743.5 H1309 M1301 750.6 H1309 M1301 757.7 H1309 M1301 764.8 H1309 M1301 771.9 H1309 M1301 779.0 H1309 M1301 786.1 H1309 M1301 793.2 H1309 M1301 800.3 H1309 M1301 807.4 H1309 M1301 814.5 H1309 M1301 821.6 H1309 M1301 828.7 H1309 M1301 835.8 H1309 M1301 842.9 H1309 M1301 850.0 H1309 M1301 857.1 H1309" fill="none" stroke="#bbb" stroke-width="0.5"/>
<rect x="1224" y="754.7" width="76.7" height="83.3" rx="2"/><path d="M1235.3 755 V838 M1263.3 755 V838" fill="none"/>
<rect x="1282" y="765" width="12.7" height="25.7" rx="1"/><rect x="1282" y="802" width="12.7" height="25.3" rx="1"/>
<rect x="1278" y="733.3" width="18" height="18" rx="2"/><rect x="1278" y="842" width="18" height="18" rx="2"/>
<rect x="1202.7" y="762.7" width="18" height="66" rx="4"/><path d="M1203 778 H1220.7 M1203 785.3 H1220.7 M1203 792.7 H1220.7 M1203 800 H1220.7" fill="none"/>
<rect x="1132.5" y="768.6" width="12.7" height="55.2"/>
<rect x="-30" y="-20.5" width="60" height="41" transform="translate(795.6 767.5) rotate(35.7)"/><path d="M-20 -20.5 V20.5" fill="none" transform="translate(795.6 767.5) rotate(35.7)"/>
<rect x="-29" y="-19.5" width="58" height="39" transform="translate(1172 873) rotate(-17)"/><path d="M-19 -19.5 V19.5" fill="none" transform="translate(1172 873) rotate(-17)"/>
<circle cx="801" cy="734" r="4"/><circle cx="1139" cy="852.5" r="4.5"/>
<rect x="1005" y="939" width="73" height="40" transform="rotate(-6 1041 959)"/><path d="M1042 937 L1046 977" fill="none"/>
<rect x="1029" y="1000" width="38" height="23" transform="rotate(-6 1048 1011)"/>
<circle cx="1287" cy="742.3" r="4.3" fill="none"/><path d="M1282.7 742.3 H1291.3 M1287 738.0 V746.5999999999999" fill="none" stroke-width="0.4"/>
<circle cx="1287" cy="851" r="4.3" fill="none"/><path d="M1282.7 851 H1291.3 M1287 846.7 V855.3" fill="none" stroke-width="0.4"/>
<circle cx="800.2" cy="464.6" r="4.3" fill="none"/><path d="M795.9000000000001 464.6 H804.5 M800.2 460.3 V468.90000000000003" fill="none" stroke-width="0.4"/>
<circle cx="892.6" cy="464.6" r="4.3" fill="none"/><path d="M888.3000000000001 464.6 H896.9 M892.6 460.3 V468.90000000000003" fill="none" stroke-width="0.4"/>
<circle cx="920.4" cy="810.8" r="4.3" fill="none"/><path d="M916.1 810.8 H924.6999999999999 M920.4 806.5 V815.0999999999999" fill="none" stroke-width="0.4"/>
<circle cx="920.4" cy="892.8" r="4.3" fill="none"/><path d="M916.1 892.8 H924.6999999999999 M920.4 888.5 V897.0999999999999" fill="none" stroke-width="0.4"/>
<circle cx="971.5" cy="810.8" r="4.3" fill="none"/><path d="M967.2 810.8 H975.8 M971.5 806.5 V815.0999999999999" fill="none" stroke-width="0.4"/>
<circle cx="971.5" cy="892.8" r="4.3" fill="none"/><path d="M967.2 892.8 H975.8 M971.5 888.5 V897.0999999999999" fill="none" stroke-width="0.4"/>
</g>
<g fill="#fff" stroke="#999" stroke-width="0.6">
<polyline points="750.0,614.2 768.5,608.2 787.0,614.2 805.5,608.2 824.0,614.2 842.5,608.2 861.0,614.2"/>
<polyline points="750.0,664.4 768.5,670.5 787.0,664.4 805.5,670.5 824.0,664.4 842.5,670.5 861.0,664.4"/>
<polyline points="1131.5,666.4 1150.4,660.5 1169.3,666.4"/>
<polyline points="1224.0,667.5 1245.2,661.0 1266.5,667.5 1287.8,661.0 1309.0,667.5"/>
<polyline points="1224.7,610.3 1239.3,616.5 1253.8,610.3 1268.4,616.5 1283.0,610.3"/>
<polyline points="1103.0,667.4 1096.5,685.8 1103.0,704.2 1096.5,722.6 1103.0,741.1 1096.5,759.5 1103.0,777.9"/>
</g>
<ellipse cx="926" cy="258" rx="8" ry="10" fill="#c8c8c4" stroke="#777" stroke-width="0.6" transform="rotate(-30 926 258)"/>
<path d="M1210.8 239.5 A25.5 25.5 0 0 0 1236.3 265 V239.5 Z M1210.8 291.7 A25.5 25.5 0 0 1 1236.3 266.2 V291.7 Z" fill="#fff"/>
<path d="M1211 239.5 H1236.3 M1211 291.7 H1236.3" stroke="#6a625a" stroke-width="1.4" fill="none"/>
<g fill="none" stroke="#9a9a9a" stroke-width="0.7">
<path d="M1210.8 239.5 A25.5 25.5 0 0 0 1236.3 265"/>
<path d="M1210.8 291.7 A25.5 25.5 0 0 1 1236.3 266.2"/>
<path d="M923 530 A30.7 30.7 0 0 1 953.7 560.7 M923 530 V560.7"/>
<path d="M922.6 612 A32.5 32.5 0 0 1 955 579.5 M955.5 579.5 V612"/>
<path d="M1027 527 A31.6 31.6 0 0 1 1058.6 495.4 M1058.6 495.4 V527"/>
<path d="M1033.8 535.8 A30.5 30.5 0 0 0 1064.3 566.3"/>
<path d="M1132 512.4 A29.6 29.6 0 0 1 1161.6 542"/>
<path d="M1183.6 552 A30.6 30.6 0 0 1 1214.2 582.7 M1183.6 552 V582.7"/>
<path d="M1165.2 622.5 A33.7 33.7 0 0 1 1131.5 656.2 M1131.5 622.5 H1165.2"/>
<path d="M1180.5 727.5 A33.5 33.5 0 0 0 1214 694 M1180.5 694 V727.5"/>
<path d="M875.4 665.4 A34 34 0 0 0 909 699.4 M909 665.4 V699.4"/>
<path d="M920 708.8 A29.6 29.6 0 0 1 949.6 738.4"/>
<path d="M1052.5 741.5 A30.5 30.5 0 0 0 1022 772"/>
<path d="M1063.3 666.4 A33.7 33.7 0 0 0 1097 700"/>
</g>
<path d="M1033.8 535.8 H1064.3 M1132 542 H1161.6 M920 738.4 H949.6 M1022 772 H1052.5" stroke="#4b3c30" stroke-width="1.6" fill="none"/>
<rect x="1055" y="366" width="56" height="54" fill="#fbfbfa"/>
<path d="M1065 438 L1080 440 L1066 466 Z" fill="#fff" stroke="#999" stroke-width="0.6"/>
<g fill="#4b3c30" filter="url(#sh)">
<rect x="744.0" y="228.0" width="501.0" height="7.5" fill="#4b3c30" />
<rect x="1193.0" y="294.0" width="126.0" height="9.0" fill="#4b3c30" />
<rect x="1309.0" y="297.0" width="10.0" height="598.0" fill="#4b3c30" />
<rect x="1309.0" y="298.0" width="22.0" height="57.0" fill="#4b3c30" />
<rect x="1049.0" y="360.0" width="68.0" height="7.0" fill="#4b3c30" />
<rect x="1049.0" y="360.0" width="7.0" height="66.0" fill="#4b3c30" />
<rect x="1110.0" y="360.0" width="7.0" height="66.0" fill="#4b3c30" />
<rect x="1049.0" y="419.0" width="68.0" height="7.0" fill="#4b3c30" />
<rect x="1049.0" y="426.0" width="21.0" height="11.0" fill="#4b3c30" />
<rect x="746.0" y="443.0" width="217.0" height="5.5" fill="#4b3c30" />
<rect x="751.0" y="432.6" width="30.5" height="22.6" fill="#4b3c30" />
<rect x="963.0" y="432.6" width="38.3" height="22.6" fill="#4b3c30" />
<rect x="1001.0" y="432.6" width="69.0" height="4.4" fill="#4b3c30" />
<rect x="912.0" y="448.0" width="5.0" height="118.0" fill="#4b3c30" />
<rect x="912.0" y="561.0" width="9.0" height="5.0" fill="#4b3c30" />
<rect x="954.5" y="561.0" width="35.5" height="5.0" fill="#4b3c30" />
<rect x="984.5" y="455.0" width="5.3" height="161.0" fill="#4b3c30" />
<rect x="984.5" y="455.0" width="16.8" height="12.5" fill="#4b3c30" />
<rect x="984.5" y="467.4" width="85.5" height="5.0" fill="#4b3c30" />
<rect x="1064.7" y="467.0" width="5.3" height="69.0" fill="#4b3c30" />
<rect x="1064.7" y="568.0" width="5.3" height="48.0" fill="#4b3c30" />
<rect x="957.0" y="611.3" width="113.0" height="4.8" fill="#4b3c30" />
<rect x="990.0" y="525.3" width="37.0" height="4.4" fill="#4b3c30" />
<rect x="957.0" y="578.0" width="5.0" height="38.0" fill="#4b3c30" />
<rect x="865.0" y="611.3" width="56.0" height="5.2" fill="#4b3c30" />
<rect x="865.2" y="611.0" width="4.8" height="55.4" fill="#4b3c30" />
<rect x="744.0" y="636.2" width="121.0" height="5.7" fill="#4b3c30" />
<rect x="744.0" y="722.0" width="125.0" height="5.0" fill="#4b3c30" />
<rect x="912.7" y="661.5" width="145.7" height="5.3" fill="#4b3c30" />
<rect x="914.7" y="661.0" width="4.9" height="122.8" fill="#4b3c30" />
<rect x="983.5" y="661.0" width="5.5" height="122.8" fill="#4b3c30" />
<rect x="1052.6" y="661.0" width="5.4" height="79.7" fill="#4b3c30" />
<rect x="1052.6" y="775.0" width="5.4" height="8.8" fill="#4b3c30" />
<rect x="914.7" y="777.9" width="143.3" height="5.9" fill="#4b3c30" />
<rect x="923.9" y="666.0" width="37.7" height="17.4" fill="#4b3c30" />
<rect x="923.9" y="783.0" width="38.3" height="18.4" fill="#4b3c30" />
<rect x="931.3" y="801.0" width="30.7" height="137.6" fill="#4b3c30" />
<rect x="1099.0" y="662.0" width="4.0" height="38.6" fill="#4b3c30" />
<rect x="1099.0" y="661.0" width="33.0" height="6.0" fill="#4b3c30" />
<rect x="1103.4" y="778.0" width="28.6" height="6.0" fill="#4b3c30" />
<rect x="1126.5" y="657.6" width="5.3" height="258.4" fill="#4b3c30" />
<rect x="1126.2" y="481.0" width="192.8" height="5.5" fill="#4b3c30" />
<rect x="1126.0" y="481.0" width="6.0" height="31.0" fill="#4b3c30" />
<rect x="1126.0" y="544.4" width="6.0" height="33.6" fill="#4b3c30" />
<rect x="1126.0" y="609.4" width="6.0" height="10.6" fill="#4b3c30" />
<rect x="1173.0" y="486.0" width="4.8" height="127.2" fill="#4b3c30" />
<rect x="1126.0" y="573.0" width="52.0" height="5.0" fill="#4b3c30" />
<rect x="1126.0" y="608.5" width="52.0" height="4.7" fill="#4b3c30" />
<rect x="1215.0" y="582.6" width="68.0" height="5.2" fill="#4b3c30" />
<rect x="1283.0" y="552.0" width="6.6" height="65.0" fill="#4b3c30" />
<rect x="1283.0" y="552.0" width="27.0" height="6.0" fill="#4b3c30" />
<rect x="1283.0" y="609.4" width="36.0" height="7.6" fill="#4b3c30" />
<rect x="1220.0" y="587.0" width="4.7" height="23.4" fill="#4b3c30" />
<rect x="1169.3" y="666.0" width="5.1" height="29.0" fill="#4b3c30" />
<rect x="1131.0" y="690.0" width="47.0" height="5.0" fill="#4b3c30" />
<rect x="1219.4" y="667.5" width="4.6" height="27.5" fill="#4b3c30" />
<rect x="1215.3" y="690.0" width="93.7" height="5.0" fill="#4b3c30" />
<rect x="1319.0" y="674.6" width="16.0" height="36.8" fill="#4b3c30" />
<rect x="1310.6" y="857.6" width="24.4" height="30.7" fill="#4b3c30" />
<rect x="744.0" y="235.0" width="2.5" height="508.0" fill="#4b3c30" />
<rect x="768.5" y="813.4" width="31.2" height="24.0" fill="#4b3c30" />
<circle cx="1083.6" cy="393.5" r="26"/>
<circle cx="1317.3" cy="584.6" r="26.2"/>
</g>
<rect x="1058" y="360.8" width="22.5" height="4.8" fill="#e6e5e2"/><rect x="1086.5" y="360.8" width="22.5" height="4.8" fill="#e6e5e2"/>
<rect x="1056" y="427" width="9" height="5.5" fill="#d8d7d3"/><rect x="990.8" y="456.5" width="5.7" height="8.5" fill="#d8d7d3"/>
<rect x="1237" y="235.5" width="8" height="58.5" fill="#e4e2de" stroke="#aaa" stroke-width="0.6"/>
<path d="M1252 264.5 L1263.3 250 L1263.3 278.8 Z" fill="url(#arrowg)"/>
<rect x="735" y="227" width="9" height="516" fill="#fff" stroke="#b5b5b5" stroke-width="0.7"/>
<rect x="735.0" y="248.4" width="9.0" height="2.6" fill="#4b3c30" />
<rect x="735.0" y="293.7" width="9.0" height="2.6" fill="#4b3c30" />
<rect x="735.0" y="338.7" width="9.0" height="2.6" fill="#4b3c30" />
<rect x="735.0" y="383.7" width="9.0" height="2.6" fill="#4b3c30" />
<rect x="735.0" y="428.7" width="9.0" height="2.6" fill="#4b3c30" />
<rect x="735.0" y="473.7" width="9.0" height="2.6" fill="#4b3c30" />
<rect x="735.0" y="518.7" width="9.0" height="2.6" fill="#4b3c30" />
<rect x="735.0" y="563.7" width="9.0" height="2.6" fill="#4b3c30" />
<rect x="735.0" y="608.7" width="9.0" height="2.6" fill="#4b3c30" />
<rect x="735.0" y="653.7" width="9.0" height="2.6" fill="#4b3c30" />
<rect x="735.0" y="698.7" width="9.0" height="2.6" fill="#4b3c30" />
<path d="M740.6 743.0 C741.3 750.4 741.6 772.9 745.0 787.5 C748.4 802.1 754.2 816.8 761.0 830.6 C767.8 844.5 775.8 858.8 785.8 870.6 C795.8 882.4 809.1 892.2 821.0 901.4 C832.9 910.6 843.9 919.8 857.0 926.0 C870.1 932.2 885.2 935.9 899.6 938.7 C914.0 941.5 932.7 942.5 943.3 943.0 C953.9 943.5 959.7 941.7 963.0 941.4 L1317 900.5" fill="none" stroke="#a9a9a9" stroke-width="8.5" filter="url(#shs)"/>
<path d="M740.6 743.0 C741.3 750.4 741.6 772.9 745.0 787.5 C748.4 802.1 754.2 816.8 761.0 830.6 C767.8 844.5 775.8 858.8 785.8 870.6 C795.8 882.4 809.1 892.2 821.0 901.4 C832.9 910.6 843.9 919.8 857.0 926.0 C870.1 932.2 885.2 935.9 899.6 938.7 C914.0 941.5 932.7 942.5 943.3 943.0 C953.9 943.5 959.7 941.7 963.0 941.4 L1317 900.5" fill="none" stroke="#ffffff" stroke-width="6.8"/>
<rect x="739.1" y="740.5" width="2.2" height="9" fill="#4b3c30" transform="rotate(90 740.2 745)"/>
<rect x="784.7" y="866.9" width="2.2" height="9" fill="#4b3c30" transform="rotate(49.7 785.8 871.4)"/>
<rect x="816.4" y="897.9" width="2.2" height="9" fill="#4b3c30" transform="rotate(37.9 817.5 902.4)"/>
<rect x="855.9" y="921.5" width="2.2" height="9" fill="#4b3c30" transform="rotate(25.4 857 926)"/>
<rect x="898.5" y="934.2" width="2.2" height="9" fill="#4b3c30" transform="rotate(11.1 899.6 938.7)"/>
<rect x="942.9" y="938.5" width="2.2" height="9" fill="#4b3c30" transform="rotate(0 944 943)"/>
<rect x="961.9" y="936.9" width="2.2" height="9" fill="#4b3c30" transform="rotate(-6.6 963 941.4)"/>
<rect x="987.5" y="932.8" width="2.2" height="9" fill="#4b3c30" transform="rotate(-6.6 988.6 937.3)"/>
<rect x="1006.9" y="930.7" width="2.2" height="9" fill="#4b3c30" transform="rotate(-6.6 1008 935.2)"/>
<rect x="1031.5" y="927.9" width="2.2" height="9" fill="#4b3c30" transform="rotate(-6.6 1032.6 932.4)"/>
<rect x="1076.4" y="922.8" width="2.2" height="9" fill="#4b3c30" transform="rotate(-6.6 1077.5 927.3)"/>
<rect x="1121.4" y="917.7" width="2.2" height="9" fill="#4b3c30" transform="rotate(-6.6 1122.5 922.2)"/>
<rect x="1140.9" y="915.5" width="2.2" height="9" fill="#4b3c30" transform="rotate(-6.6 1142 920)"/>
<rect x="1185.8" y="910.4" width="2.2" height="9" fill="#4b3c30" transform="rotate(-6.6 1186.9 914.9)"/>
<rect x="1230.8" y="905.3" width="2.2" height="9" fill="#4b3c30" transform="rotate(-6.6 1231.9 909.8)"/>
<rect x="1265.5" y="901.4" width="2.2" height="9" fill="#4b3c30" transform="rotate(-6.6 1266.6 905.9)"/>
<rect x="1310.5" y="896.4" width="2.2" height="9" fill="#4b3c30" transform="rotate(-6.6 1311.6 900.9)"/>
<g transform="translate(941 972)" filter="url(#shs)">
<g transform="rotate(-1.0)" stroke="#356b2e" stroke-linecap="round" fill="none"><path d="M2 0 Q16.4 -3.8 32.7 -4.9" stroke-width="1.3"/><path d="M4.8 -0.4 L11.0 -12.9 M4.8 -0.4 L11.0 12.1" stroke-width="1.2"/><path d="M7.6 -0.9 L13.3 -12.4 M7.6 -0.9 L13.3 10.6" stroke-width="1.2"/><path d="M10.4 -1.3 L15.6 -11.8 M10.4 -1.3 L15.6 9.2" stroke-width="1.2"/><path d="M13.2 -1.8 L17.9 -11.3 M13.2 -1.8 L17.9 7.7" stroke-width="1.2"/><path d="M16.0 -2.2 L20.2 -10.7 M16.0 -2.2 L20.2 6.3" stroke-width="1.2"/><path d="M18.8 -2.7 L22.5 -10.2 M18.8 -2.7 L22.5 4.8" stroke-width="1.2"/><path d="M21.5 -3.1 L24.8 -9.6 M21.5 -3.1 L24.8 3.4" stroke-width="1.2"/><path d="M24.3 -3.6 L27.1 -9.1 M24.3 -3.6 L27.1 1.9" stroke-width="1.2"/><path d="M27.1 -4.0 L29.4 -8.5 M27.1 -4.0 L29.4 0.5" stroke-width="1.2"/><path d="M29.9 -4.4 L31.7 -7.9 M29.9 -4.4 L31.7 -0.9" stroke-width="1.2"/></g>
<g transform="rotate(36.2)" stroke="#5a914a" stroke-linecap="round" fill="none"><path d="M2 0 Q15.8 -0.3 31.6 -0.4" stroke-width="1.3"/><path d="M4.7 -0.0 L10.9 -12.5 M4.7 -0.0 L10.9 12.5" stroke-width="1.2"/><path d="M7.4 -0.1 L13.1 -11.6 M7.4 -0.1 L13.1 11.4" stroke-width="1.2"/><path d="M10.1 -0.1 L15.3 -10.6 M10.1 -0.1 L15.3 10.4" stroke-width="1.2"/><path d="M12.8 -0.1 L17.5 -9.6 M12.8 -0.1 L17.5 9.4" stroke-width="1.2"/><path d="M15.4 -0.2 L19.7 -8.7 M15.4 -0.2 L19.7 8.3" stroke-width="1.2"/><path d="M18.1 -0.2 L21.9 -7.7 M18.1 -0.2 L21.9 7.3" stroke-width="1.2"/><path d="M20.8 -0.2 L24.1 -6.7 M20.8 -0.2 L24.1 6.3" stroke-width="1.2"/><path d="M23.5 -0.3 L26.3 -5.8 M23.5 -0.3 L26.3 5.2" stroke-width="1.2"/><path d="M26.2 -0.3 L28.5 -4.8 M26.2 -0.3 L28.5 4.2" stroke-width="1.2"/><path d="M28.9 -0.3 L30.6 -3.8 M28.9 -0.3 L30.6 3.2" stroke-width="1.2"/></g>
<g transform="rotate(55.5)" stroke="#41783a" stroke-linecap="round" fill="none"><path d="M2 0 Q16.5 -0.5 33.0 -0.6" stroke-width="1.3"/><path d="M4.8 -0.1 L11.1 -12.6 M4.8 -0.1 L11.1 12.4" stroke-width="1.2"/><path d="M7.6 -0.1 L13.4 -11.6 M7.6 -0.1 L13.4 11.4" stroke-width="1.2"/><path d="M10.5 -0.2 L15.7 -10.7 M10.5 -0.2 L15.7 10.3" stroke-width="1.2"/><path d="M13.3 -0.2 L18.0 -9.7 M13.3 -0.2 L18.0 9.3" stroke-width="1.2"/><path d="M16.1 -0.3 L20.4 -8.8 M16.1 -0.3 L20.4 8.2" stroke-width="1.2"/><path d="M18.9 -0.3 L22.7 -7.8 M18.9 -0.3 L22.7 7.2" stroke-width="1.2"/><path d="M21.8 -0.4 L25.0 -6.9 M21.8 -0.4 L25.0 6.1" stroke-width="1.2"/><path d="M24.6 -0.4 L27.3 -5.9 M24.6 -0.4 L27.3 5.1" stroke-width="1.2"/><path d="M27.4 -0.5 L29.7 -5.0 M27.4 -0.5 L29.7 4.0" stroke-width="1.2"/><path d="M30.2 -0.6 L32.0 -4.1 M30.2 -0.6 L32.0 2.9" stroke-width="1.2"/></g>
<g transform="rotate(76.8)" stroke="#6fa65a" stroke-linecap="round" fill="none"><path d="M2 0 Q16.1 2.7 32.1 3.6" stroke-width="1.3"/><path d="M4.7 0.3 L11.0 -12.2 M4.7 0.3 L11.0 12.8" stroke-width="1.2"/><path d="M7.5 0.6 L13.2 -10.9 M7.5 0.6 L13.2 12.1" stroke-width="1.2"/><path d="M10.2 1.0 L15.5 -9.5 M10.2 1.0 L15.5 11.5" stroke-width="1.2"/><path d="M13.0 1.3 L17.7 -8.2 M13.0 1.3 L17.7 10.8" stroke-width="1.2"/><path d="M15.7 1.6 L20.0 -6.9 M15.7 1.6 L20.0 10.1" stroke-width="1.2"/><path d="M18.4 1.9 L22.2 -5.6 M18.4 1.9 L22.2 9.4" stroke-width="1.2"/><path d="M21.2 2.3 L24.4 -4.2 M21.2 2.3 L24.4 8.8" stroke-width="1.2"/><path d="M23.9 2.6 L26.7 -2.9 M23.9 2.6 L26.7 8.1" stroke-width="1.2"/><path d="M26.7 2.9 L28.9 -1.6 M26.7 2.9 L28.9 7.4" stroke-width="1.2"/><path d="M29.4 3.2 L31.2 -0.3 M29.4 3.2 L31.2 6.7" stroke-width="1.2"/></g>
<g transform="rotate(113.4)" stroke="#2b5727" stroke-linecap="round" fill="none"><path d="M2 0 Q17.8 0.2 35.5 0.2" stroke-width="1.3"/><path d="M5.0 0.0 L11.3 -12.5 M5.0 0.0 L11.3 12.5" stroke-width="1.2"/><path d="M8.1 0.0 L13.8 -11.5 M8.1 0.0 L13.8 11.5" stroke-width="1.2"/><path d="M11.1 0.1 L16.4 -10.4 M11.1 0.1 L16.4 10.6" stroke-width="1.2"/><path d="M14.2 0.1 L18.9 -9.4 M14.2 0.1 L18.9 9.6" stroke-width="1.2"/><path d="M17.2 0.1 L21.5 -8.4 M17.2 0.1 L21.5 8.6" stroke-width="1.2"/><path d="M20.3 0.1 L24.0 -7.4 M20.3 0.1 L24.0 7.6" stroke-width="1.2"/><path d="M23.3 0.1 L26.6 -6.4 M23.3 0.1 L26.6 6.6" stroke-width="1.2"/><path d="M26.4 0.1 L29.1 -5.4 M26.4 0.1 L29.1 5.6" stroke-width="1.2"/><path d="M29.4 0.2 L31.7 -4.3 M29.4 0.2 L31.7 4.7" stroke-width="1.2"/><path d="M32.5 0.2 L34.2 -3.3 M32.5 0.2 L34.2 3.7" stroke-width="1.2"/></g>
<g transform="rotate(130.3)" stroke="#356b2e" stroke-linecap="round" fill="none"><path d="M2 0 Q14.8 1.1 29.6 1.5" stroke-width="1.3"/><path d="M4.5 0.1 L10.8 -12.4 M4.5 0.1 L10.8 12.6" stroke-width="1.2"/><path d="M7.0 0.3 L12.8 -11.2 M7.0 0.3 L12.8 11.8" stroke-width="1.2"/><path d="M9.5 0.4 L14.8 -10.1 M9.5 0.4 L14.8 10.9" stroke-width="1.2"/><path d="M12.1 0.5 L16.8 -9.0 M12.1 0.5 L16.8 10.0" stroke-width="1.2"/><path d="M14.6 0.7 L18.8 -7.8 M14.6 0.7 L18.8 9.2" stroke-width="1.2"/><path d="M17.1 0.8 L20.8 -6.7 M17.1 0.8 L20.8 8.3" stroke-width="1.2"/><path d="M19.6 0.9 L22.8 -5.6 M19.6 0.9 L22.8 7.4" stroke-width="1.2"/><path d="M22.1 1.1 L24.9 -4.4 M22.1 1.1 L24.9 6.6" stroke-width="1.2"/><path d="M24.6 1.2 L26.9 -3.3 M24.6 1.2 L26.9 5.7" stroke-width="1.2"/><path d="M27.1 1.3 L28.9 -2.2 M27.1 1.3 L28.9 4.8" stroke-width="1.2"/></g>
<g transform="rotate(158.0)" stroke="#5a914a" stroke-linecap="round" fill="none"><path d="M2 0 Q17.9 -0.0 35.7 -0.0" stroke-width="1.3"/><path d="M5.1 -0.0 L11.3 -12.5 M5.1 -0.0 L11.3 12.5" stroke-width="1.2"/><path d="M8.1 -0.0 L13.9 -11.5 M8.1 -0.0 L13.9 11.5" stroke-width="1.2"/><path d="M11.2 -0.0 L16.4 -10.5 M11.2 -0.0 L16.4 10.5" stroke-width="1.2"/><path d="M14.3 -0.0 L19.0 -9.5 M14.3 -0.0 L19.0 9.5" stroke-width="1.2"/><path d="M17.3 -0.0 L21.6 -8.5 M17.3 -0.0 L21.6 8.5" stroke-width="1.2"/><path d="M20.4 -0.0 L24.1 -7.5 M20.4 -0.0 L24.1 7.5" stroke-width="1.2"/><path d="M23.5 -0.0 L26.7 -6.5 M23.5 -0.0 L26.7 6.5" stroke-width="1.2"/><path d="M26.5 -0.0 L29.3 -5.5 M26.5 -0.0 L29.3 5.5" stroke-width="1.2"/><path d="M29.6 -0.0 L31.8 -4.5 M29.6 -0.0 L31.8 4.5" stroke-width="1.2"/><path d="M32.7 -0.0 L34.4 -3.5 M32.7 -0.0 L34.4 3.5" stroke-width="1.2"/></g>
<g transform="rotate(197.7)" stroke="#41783a" stroke-linecap="round" fill="none"><path d="M2 0 Q13.3 1.3 26.5 1.7" stroke-width="1.3"/><path d="M4.2 0.2 L10.5 -12.3 M4.2 0.2 L10.5 12.7" stroke-width="1.2"/><path d="M6.5 0.3 L12.2 -11.2 M6.5 0.3 L12.2 11.8" stroke-width="1.2"/><path d="M8.7 0.5 L13.9 -10.0 M8.7 0.5 L13.9 11.0" stroke-width="1.2"/><path d="M10.9 0.6 L15.7 -8.9 M10.9 0.6 L15.7 10.1" stroke-width="1.2"/><path d="M13.1 0.8 L17.4 -7.7 M13.1 0.8 L17.4 9.3" stroke-width="1.2"/><path d="M15.4 0.9 L19.1 -6.6 M15.4 0.9 L19.1 8.4" stroke-width="1.2"/><path d="M17.6 1.1 L20.8 -5.4 M17.6 1.1 L20.8 7.6" stroke-width="1.2"/><path d="M19.8 1.2 L22.6 -4.3 M19.8 1.2 L22.6 6.7" stroke-width="1.2"/><path d="M22.0 1.4 L24.3 -3.1 M22.0 1.4 L24.3 5.9" stroke-width="1.2"/><path d="M24.3 1.5 L26.0 -2.0 M24.3 1.5 L26.0 5.0" stroke-width="1.2"/></g>
<g transform="rotate(231.2)" stroke="#6fa65a" stroke-linecap="round" fill="none"><path d="M2 0 Q18.8 -0.3 37.6 -0.4" stroke-width="1.3"/><path d="M5.2 -0.0 L11.5 -12.5 M5.2 -0.0 L11.5 12.5" stroke-width="1.2"/><path d="M8.5 -0.1 L14.2 -11.6 M8.5 -0.1 L14.2 11.4" stroke-width="1.2"/><path d="M11.7 -0.1 L17.0 -10.6 M11.7 -0.1 L17.0 10.4" stroke-width="1.2"/><path d="M14.9 -0.2 L19.7 -9.7 M14.9 -0.2 L19.7 9.3" stroke-width="1.2"/><path d="M18.2 -0.2 L22.4 -8.7 M18.2 -0.2 L22.4 8.3" stroke-width="1.2"/><path d="M21.4 -0.2 L25.2 -7.7 M21.4 -0.2 L25.2 7.3" stroke-width="1.2"/><path d="M24.6 -0.3 L27.9 -6.8 M24.6 -0.3 L27.9 6.2" stroke-width="1.2"/><path d="M27.9 -0.3 L30.6 -5.8 M27.9 -0.3 L30.6 5.2" stroke-width="1.2"/><path d="M31.1 -0.4 L33.4 -4.9 M31.1 -0.4 L33.4 4.1" stroke-width="1.2"/><path d="M34.3 -0.4 L36.1 -3.9 M34.3 -0.4 L36.1 3.1" stroke-width="1.2"/></g>
<g transform="rotate(252.3)" stroke="#2b5727" stroke-linecap="round" fill="none"><path d="M2 0 Q16.7 -1.8 33.4 -2.3" stroke-width="1.3"/><path d="M4.9 -0.2 L11.1 -12.7 M4.9 -0.2 L11.1 12.3" stroke-width="1.2"/><path d="M7.7 -0.4 L13.5 -11.9 M7.7 -0.4 L13.5 11.1" stroke-width="1.2"/><path d="M10.6 -0.6 L15.8 -11.1 M10.6 -0.6 L15.8 9.9" stroke-width="1.2"/><path d="M13.4 -0.8 L18.2 -10.3 M13.4 -0.8 L18.2 8.7" stroke-width="1.2"/><path d="M16.3 -1.0 L20.5 -9.5 M16.3 -1.0 L20.5 7.5" stroke-width="1.2"/><path d="M19.1 -1.3 L22.9 -8.8 M19.1 -1.3 L22.9 6.2" stroke-width="1.2"/><path d="M22.0 -1.5 L25.2 -8.0 M22.0 -1.5 L25.2 5.0" stroke-width="1.2"/><path d="M24.8 -1.7 L27.6 -7.2 M24.8 -1.7 L27.6 3.8" stroke-width="1.2"/><path d="M27.7 -1.9 L29.9 -6.4 M27.7 -1.9 L29.9 2.6" stroke-width="1.2"/><path d="M30.5 -2.1 L32.3 -5.6 M30.5 -2.1 L32.3 1.4" stroke-width="1.2"/></g>
<g transform="rotate(270.1)" stroke="#356b2e" stroke-linecap="round" fill="none"><path d="M2 0 Q13.1 4.0 26.2 5.2" stroke-width="1.3"/><path d="M4.2 0.5 L10.4 -12.0 M4.2 0.5 L10.4 13.0" stroke-width="1.2"/><path d="M6.4 0.9 L12.1 -10.6 M6.4 0.9 L12.1 12.4" stroke-width="1.2"/><path d="M8.6 1.4 L13.8 -9.1 M8.6 1.4 L13.8 11.9" stroke-width="1.2"/><path d="M10.8 1.9 L15.5 -7.6 M10.8 1.9 L15.5 11.4" stroke-width="1.2"/><path d="M13.0 2.4 L17.2 -6.1 M13.0 2.4 L17.2 10.9" stroke-width="1.2"/><path d="M15.2 2.8 L18.9 -4.7 M15.2 2.8 L18.9 10.3" stroke-width="1.2"/><path d="M17.4 3.3 L20.6 -3.2 M17.4 3.3 L20.6 9.8" stroke-width="1.2"/><path d="M19.6 3.8 L22.3 -1.7 M19.6 3.8 L22.3 9.3" stroke-width="1.2"/><path d="M21.8 4.2 L24.0 -0.3 M21.8 4.2 L24.0 8.7" stroke-width="1.2"/><path d="M24.0 4.7 L25.7 1.2 M24.0 4.7 L25.7 8.2" stroke-width="1.2"/></g>
<g transform="rotate(305.2)" stroke="#5a914a" stroke-linecap="round" fill="none"><path d="M2 0 Q13.4 4.0 26.7 5.2" stroke-width="1.3"/><path d="M4.2 0.5 L10.5 -12.0 M4.2 0.5 L10.5 13.0" stroke-width="1.2"/><path d="M6.5 0.9 L12.2 -10.6 M6.5 0.9 L12.2 12.4" stroke-width="1.2"/><path d="M8.7 1.4 L14.0 -9.1 M8.7 1.4 L14.0 11.9" stroke-width="1.2"/><path d="M11.0 1.9 L15.7 -7.6 M11.0 1.9 L15.7 11.4" stroke-width="1.2"/><path d="M13.2 2.3 L17.5 -6.2 M13.2 2.3 L17.5 10.8" stroke-width="1.2"/><path d="M15.5 2.8 L19.2 -4.7 M15.5 2.8 L19.2 10.3" stroke-width="1.2"/><path d="M17.7 3.3 L21.0 -3.2 M17.7 3.3 L21.0 9.8" stroke-width="1.2"/><path d="M20.0 3.7 L22.7 -1.8 M20.0 3.7 L22.7 9.2" stroke-width="1.2"/><path d="M22.2 4.2 L24.5 -0.3 M22.2 4.2 L24.5 8.7" stroke-width="1.2"/><path d="M24.5 4.7 L26.2 1.2 M24.5 4.7 L26.2 8.2" stroke-width="1.2"/></g>
<g transform="rotate(326.1)" stroke="#41783a" stroke-linecap="round" fill="none"><path d="M2 0 Q14.5 2.7 28.9 3.5" stroke-width="1.3"/><path d="M4.4 0.3 L10.7 -12.2 M4.4 0.3 L10.7 12.8" stroke-width="1.2"/><path d="M6.9 0.6 L12.6 -10.9 M6.9 0.6 L12.6 12.1" stroke-width="1.2"/><path d="M9.3 1.0 L14.6 -9.5 M9.3 1.0 L14.6 11.5" stroke-width="1.2"/><path d="M11.8 1.3 L16.5 -8.2 M11.8 1.3 L16.5 10.8" stroke-width="1.2"/><path d="M14.2 1.6 L18.5 -6.9 M14.2 1.6 L18.5 10.1" stroke-width="1.2"/><path d="M16.7 1.9 L20.4 -5.6 M16.7 1.9 L20.4 9.4" stroke-width="1.2"/><path d="M19.1 2.3 L22.4 -4.2 M19.1 2.3 L22.4 8.8" stroke-width="1.2"/><path d="M21.6 2.6 L24.3 -2.9 M21.6 2.6 L24.3 8.1" stroke-width="1.2"/><path d="M24.0 2.9 L26.3 -1.6 M24.0 2.9 L26.3 7.4" stroke-width="1.2"/><path d="M26.5 3.2 L28.2 -0.3 M26.5 3.2 L28.2 6.7" stroke-width="1.2"/></g>
<circle r="4" fill="#4a4a2a" opacity="0.6"/>
</g>
<circle cx="918.9" cy="306" r="8.6" fill="url(#mk)"/>
<text x="918.9" y="310.7" font-size="11.8" fill="#fff" text-anchor="middle">1</text>
<circle cx="1034.2" cy="270.6" r="8.6" fill="url(#mk)"/>
<text x="1034.2" y="275.3" font-size="11.8" fill="#fff" text-anchor="middle">2</text>
<circle cx="1260.4" cy="388.7" r="8.6" fill="url(#mk)"/>
<text x="1260.4" y="393.4" font-size="11.8" fill="#fff" text-anchor="middle">3</text>
<circle cx="1173.4" cy="795.8" r="8.6" fill="url(#mk)"/>
<text x="1173.4" y="800.5" font-size="11.8" fill="#fff" text-anchor="middle">4</text>
<circle cx="1243.3" cy="639.9" r="8.6" fill="url(#mk)"/>
<text x="1243.3" y="644.6" font-size="11.8" fill="#fff" text-anchor="middle">5</text>
<circle cx="1222.2" cy="538.7" r="8.6" fill="url(#mk)"/>
<text x="1222.2" y="543.4" font-size="11.8" fill="#fff" text-anchor="middle">6</text>
<circle cx="832.4" cy="577.9" r="8.6" fill="url(#mk)"/>
<text x="832.4" y="582.6" font-size="11.8" fill="#fff" text-anchor="middle">7</text>
<circle cx="961.5" cy="512.9" r="8.6" fill="url(#mk)"/>
<text x="961.5" y="517.6" font-size="11.8" fill="#fff" text-anchor="middle">8</text>
<circle cx="873.3" cy="771.3" r="8.6" fill="url(#mk)"/>
<text x="873.3" y="776.0" font-size="11.8" fill="#fff" text-anchor="middle">9</text>
<circle cx="832.4" cy="696.5" r="8.6" fill="url(#mk)"/>
<text x="832.8" y="700.7" font-size="10.8" letter-spacing="-0.8" fill="#fff" text-anchor="middle">10</text>
<circle cx="944.5" cy="758.9" r="8.6" fill="url(#mk)"/>
<text x="944.9" y="763.1" font-size="10.8" letter-spacing="-0.8" fill="#fff" text-anchor="middle">11</text>
<circle cx="1092.7" cy="831.3" r="8.6" fill="url(#mk)"/>
<text x="1093.1000000000001" y="835.5" font-size="10.8" letter-spacing="-0.8" fill="#fff" text-anchor="middle">12</text>
<circle cx="1079.6" cy="728" r="8.6" fill="url(#mk)"/>
<text x="1080.0" y="732.2" font-size="10.8" letter-spacing="-0.8" fill="#fff" text-anchor="middle">13</text>
<circle cx="1030.7" cy="720.6" r="8.6" fill="url(#mk)"/>
<text x="1031.1000000000001" y="724.8" font-size="10.8" letter-spacing="-0.8" fill="#fff" text-anchor="middle">14</text>
<circle cx="1036" cy="569.3" r="8.6" fill="url(#mk)"/>
<text x="1036.4" y="573.5" font-size="10.8" letter-spacing="-0.8" fill="#fff" text-anchor="middle">15</text>
<circle cx="1008.5" cy="512.9" r="8.6" fill="url(#mk)"/>
<text x="1008.9" y="517.1" font-size="10.8" letter-spacing="-0.8" fill="#fff" text-anchor="middle">16</text>
<circle cx="1045.2" cy="451.8" r="8.6" fill="url(#mk)"/>
<text x="1045.6000000000001" y="456.0" font-size="10.8" letter-spacing="-0.8" fill="#fff" text-anchor="middle">17</text>
<circle cx="1140" cy="593.7" r="8.6" fill="url(#mk)"/>
<text x="1140.4" y="597.9" font-size="10.8" letter-spacing="-0.8" fill="#fff" text-anchor="middle">18</text>
<circle cx="1145.7" cy="525.9" r="8.6" fill="url(#mk)"/>
<text x="1146.1000000000001" y="530.1" font-size="10.8" letter-spacing="-0.8" fill="#fff" text-anchor="middle">19</text>
<circle cx="1155.8" cy="969" r="8.6" fill="url(#mk)"/>
<text x="1156.2" y="973.2" font-size="10.8" letter-spacing="-0.8" fill="#fff" text-anchor="middle">20</text>
</svg>
</body></html>
